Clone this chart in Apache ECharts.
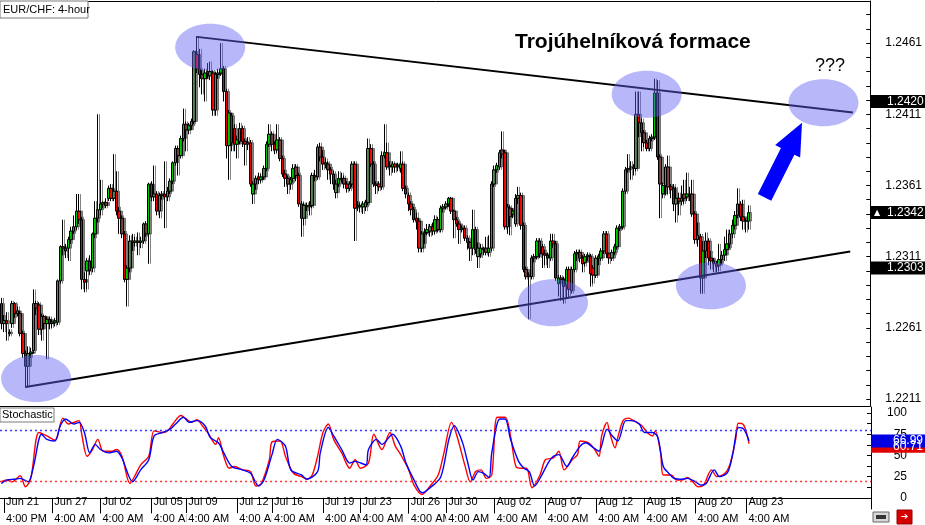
<!DOCTYPE html>
<html><head><meta charset="utf-8">
<script src="https://cdn.jsdelivr.net/npm/echarts@6/dist/echarts.min.js"></script>
<style>html,body{margin:0;padding:0;background:#fff}#c{width:925px;height:525px}</style>
</head><body><div id="c"></div>
<script>
// ---- DATA ----
// candles in pips above 1.2200 : [open, close, low, high]
const priceBase = 1.22;
const candles = [
[78,64,60,82],[64,66,58,70],[66,64,52,72],[57,58,55,60],[64,78,61,80],
[78,71,68,79],[71,73,69,76],[71,57,55,73],[57,43,40,59],[43,34,19,45],[34,43,20,48],
[43,44,40,47],[45,78,43,88],[78,75,70,80],[77,60,56,79],[60,69,52,71],
[69,64,60,70],[64,67,39,69],[67,64,60,69],[64,65,61,67],[65,66,62,68],
[65,94,63,95],[94,118,92,119],[118,117,112,137],[117,115,110,120],
[117,123,108,125],[123,129,120,132],[129,132,127,140],
[132,143,130,155],[143,137,134,155],[137,95,88,139],[95,93,86,100],[101,108,88,110],
[108,101,98,112],[103,127,100,128],[127,138,124,150],[138,144,135,211],[144,148,140,165],
[148,149,145,150],[149,147,145,152],[152,159,150,161],[159,152,150,162],[152,157,150,183],
[157,143,140,171],[143,138,127,146],[138,127,124,140],[127,95,93,129],[95,103,76,105],
[103,122,100,126],[122,121,115,127],[121,122,118,125],[122,121,112,128],[121,122,117,125],
[122,134,120,135],
[134,127,125,136],[127,162,106,163],[162,153,150,164],[153,155,150,175],[155,143,140,157],
[143,154,138,156],[154,155,151,157],[155,153,131,178],[153,157,150,160],[157,164,155,166],
[164,177,162,178],[177,187,175,189],[187,182,168,189],[182,194,180,196],[194,204,192,215],
[204,200,185,206],[200,203,197,205],[203,206,200,208],[206,255,204,256],[253,243,240,266],
[243,239,230,257],[239,236,225,242],[236,240,220,243],[240,241,236,247],[238,241,235,248],
[240,214,210,242],[214,239,210,241],[239,240,236,243],[240,243,238,261],[243,227,220,245],
[227,189,180,229],[189,212,165,214],[210,191,185,212],[201,190,185,204],[190,193,180,196],
[192,201,190,205],[201,192,188,203],[192,190,175,194],[190,191,186,195],[191,162,160,193],
[155,162,148,164],[162,166,158,168],[167,165,162,170],[165,167,163,169],[167,173,165,175],
[173,190,171,192],[190,197,188,204],[197,190,185,199],[190,186,183,192],[186,193,184,204],
[193,180,178,195],[180,169,167,182],[169,166,160,172],[166,162,155,168],[162,165,158,167],
[166,173,163,176],[174,168,164,176],[168,148,146,170],[148,138,125,150],[138,147,133,149],
[147,146,143,149],[146,147,140,150],[147,168,145,170],[168,167,164,172],[167,188,165,190],
[188,181,178,191],[181,176,172,186],[176,177,173,180],
[176,172,165,178],[172,169,162,174],[169,162,158,171],
[156,162,152,165],[162,166,160,171],[166,165,163,170],[166,162,159,168],[162,159,156,164],
[159,162,157,164],[162,176,160,178],[176,145,122,178],[146,147,143,150],[147,146,142,149],
[146,148,141,150],[146,149,143,151],[149,187,147,194],[187,176,174,190],[176,162,160,178],
[162,161,155,164],[162,160,157,164],[160,182,158,185],[182,184,180,204],[184,174,172,191],
[175,174,168,178],[174,176,170,178],[176,174,170,177],[174,175,171,177],[173,176,170,185],
[176,159,157,178],[159,155,152,161],[154,148,143,156],[148,144,140,150],[144,137,135,146],
[138,136,130,142],[136,117,114,138],[117,127,114,129],[127,128,120,131],[128,130,126,134],
[129,132,125,134],[132,129,126,135],[129,137,127,140],[137,130,128,139],[130,145,128,147],
[145,146,142,148],[146,148,144,150],[148,152,146,153],[152,143,141,153],[143,137,124,144],
[137,134,132,139],[134,130,120,136],[130,131,128,133],[131,124,122,133],[124,121,116,126],
[121,117,108,122],[117,130,112,144],[130,116,113,132],[111,117,103,121],[113,117,110,120],
[117,116,112,118],[117,114,112,125],[114,117,111,126],[117,162,115,164],[162,172,160,175],
[172,175,170,177],[174,184,172,186],
[186,183,180,199],[184,132,130,186],
[132,146,127,148],[145,139,126,147],[141,143,138,145],[134,152,132,155],[152,154,148,160],
[154,133,130,156],[133,102,100,135],[102,97,95,104],[97,98,67,100],[97,110,95,112],
[110,111,107,113],[111,122,109,124],[122,113,110,124],[118,113,103,120],[113,112,105,116],
[112,110,103,114],[110,122,108,127],[122,120,117,127],[120,96,94,122],[92,96,83,98],
[96,95,80,98],[95,90,78,97],[91,102,82,104],[102,88,82,104],[87,102,85,104],
[102,113,100,115],[113,114,108,116],[114,110,107,116],[110,106,100,112],[107,111,104,113],
[111,112,108,114],[111,99,90,113],[103,98,92,105],[98,110,96,112],[110,111,105,113],
[110,115,108,117],[115,127,113,129],[127,113,110,129],[113,110,106,114],[110,114,108,116],
[114,118,112,120],[118,131,116,133],[131,132,129,134],[132,157,130,159],[157,172,155,174],
[172,173,170,183],[174,174,165,178],
[174,173,168,176],[173,211,171,227],[211,205,195,227],[205,198,185,208],
[198,191,188,200],
[191,187,185,193],[187,194,185,196],[194,195,192,197],[195,226,193,236],[226,181,179,235],[181,162,138,183],
[155,161,152,163],[161,174,154,176],[174,160,155,182],[160,158,152,162],[159,148,143,162],
[148,152,135,160],[152,150,140,156],[150,152,147,161],[155,152,148,165],[153,155,150,170],
[155,154,150,160],[155,141,139,165],[141,123,120,143],
[123,126,118,135],
[125,96,85,127],[96,115,85,122],[115,122,110,128],[122,110,105,124],[110,108,102,115],
[108,106,100,110],[106,104,100,108],[105,109,101,120],[109,112,106,115],[112,116,108,125],
[116,120,112,130],[120,127,117,130],[127,133,124,137],[133,140,130,143],[140,148,138,159],[148,139,136,150],[139,136,130,151],
[136,136,128,138],
[136,142,130,147]
];
// stochastic (bar index, value)
const stochRed = [[0,19],[2,21],[4,19],[7,26],[9,13],[11,23],[14,77],[17,73],[20,68],[23,94],[25,87],[27,89],[29,91],[30,75],[32,49],[34,57],[36,69],[38,55],[41,55],[43,57],[45,49],[48,17],[50,27],[52,39],[55,49],[57,79],[60,77],[62,79],[64,87],[67,97],[69,93],[71,89],[73,92],[75,85],[77,77],[80,63],[81,71],[83,49],[85,35],[87,37],[90,33],[93,31],[95,14],[97,17],[100,45],[101,66],[104,67],[106,49],[109,29],[112,25],[114,22],[116,27],[118,49],[120,77],[122,87],[124,69],[127,53],[130,35],[132,45],[134,35],[137,41],[139,75],[142,57],[145,77],[147,61],[149,51],[152,33],[154,15],[157,4],[160,14],[163,27],[165,51],[168,89],[170,73],[173,38],[175,19],[177,31],[179,33],[181,23],[183,27],[185,95],[188,95],[190,73],[192,37],[194,35],[196,35],[198,12],[201,27],[203,45],[206,47],[208,55],[210,33],[213,45],[215,51],[216,67],[219,65],[221,59],[223,49],[224,73],[226,89],[227,77],[229,59],[230,71],[232,91],[234,94],[236,91],[239,85],[241,77],[243,73],[244,79],[246,53],[247,27],[250,27],[252,21],[254,21],[256,24],[258,19],[260,13],[262,15],[265,33],[267,25],[270,29],[272,41],[274,69],[275,88],[277,86],[279,64]];
const stochBlue = [[0,17],[2,21],[5,22],[7,23],[10,19],[12,37],[15,75],[17,69],[20,67],[22,85],[24,93],[27,87],[29,89],[31,77],[33,53],[35,63],[37,57],[40,53],[43,55],[45,47],[49,19],[52,33],[55,45],[57,73],[60,77],[63,81],[65,87],[68,95],[70,89],[73,91],[76,85],[78,71],[81,65],[83,53],[86,37],[90,33],[93,29],[96,14],[98,21],[101,51],[103,69],[106,61],[108,33],[112,27],[114,22],[118,31],[119,53],[122,83],[124,73],[127,57],[130,41],[132,43],[136,39],[137,57],[140,69],[142,63],[146,75],[149,61],[151,41],[154,21],[157,6],[160,12],[164,25],[167,69],[169,85],[172,66],[174,42],[176,21],[178,31],[180,29],[182,24],[183,53],[186,93],[188,93],[190,69],[193,43],[195,35],[197,31],[199,14],[202,29],[204,41],[206,49],[208,51],[211,37],[213,47],[216,61],[218,65],[221,59],[223,55],[226,81],[228,73],[230,67],[233,91],[235,91],[238,87],[240,77],[243,77],[245,71],[247,37],[249,29],[251,23],[254,22],[256,23],[259,19],[261,15],[263,17],[266,33],[268,25],[271,30],[273,53],[275,83],[277,81],[279,67]];
const stochLevels = [80, 20];
const slotCount = 325;
const labelBars = [1,19,37,56,69,88,101,120,134,152,166,184,203,222,240,259,278];
const dateLabels = ['Jun 21','Jun 27','Jul 02','Jul 05','Jul 09','Jul 12','Jul 16','Jul 19','Jul 23','Jul 26','Jul 30','Aug 02','Aug 07','Aug 12','Aug 15','Aug 20','Aug 23'];
const timeLabels = ['4:00 PM','4:00 AM','4:00 AM','4:00 AM','4:00 AM','4:00 AM','4:00 AM','4:00 AM','4:00 AM','4:00 AM','4:00 AM','4:00 AM','4:00 AM','4:00 AM','4:00 AM','4:00 AM','4:00 AM'];
const priceLabels = [1.2211,1.2261,1.2311,1.2361,1.2411,1.2461];
const stochAxisLabels = [0,25,50,75,100];
const trendUpper = [[73,1.24654],[318,1.24122]];
const trendLower = [[9,1.22194],[317,1.23147]];
const ellipseCenters = [[78.2,1.24581],[240.9,1.24251],[307,1.24192],[12.6,1.22254],[205.5,1.22787],[265.2,1.22906]];
const arrowTail = [284.9,1.23526], arrowTip = [298.8,1.24051];
const priceTags = [{v:1.2420,t:'1.2420'},{v:1.2342,t:'1.2342',tri:true},{v:1.2303,t:'1.2303'}];
const stochTags = [{v:60.7,t:'60.71',c:'#e00000'},{v:66.99,t:'66.99',c:'#0000e0'}];

// ---- CHART ----
const FONT = 'Liberation Sans';
const cats = Array.from({length: slotCount}, (_, i) => String(i));
const ohlc = candles.map(r => r.map(v => +(priceBase + v / 10000).toFixed(5)));
const minorTicks = [];
for (let k = 0; k <= 28; k++) minorTicks.push(+(1.2211 + k * 0.001).toFixed(4));
const labelMap = {};
labelBars.forEach((b, i) => labelMap[b] = i);
const isLabel = (i) => labelMap[i] !== undefined;

const chart = echarts.init(document.getElementById('c'), null, {renderer: 'canvas'});
chart.setOption({
  animation: false,
  backgroundColor: '#fff',
  textStyle: {fontFamily: FONT},
  grid: [
    {left: 0, right: 54, top: 1, height: 405, show: false},
    {left: 0, right: 54, top: 407, bottom: 16, show: false}
  ],
  xAxis: [
    {type: 'category', gridIndex: 0, data: cats, boundaryGap: true,
     axisLine: {show: true, lineStyle: {color: '#000', width: 1}}, axisTick: {show: false}, axisLabel: {show: false}, splitLine: {show: false}},
    {type: 'category', gridIndex: 1, data: cats, boundaryGap: true, position: 'bottom',
     axisLine: {show: true, lineStyle: {color: '#000'}},
     axisTick: {show: true, alignWithLabel: true, length: 16, lineStyle: {color: '#000'}, interval: isLabel},
     axisLabel: {show: true, interval: isLabel, align: 'left', margin: 4,
       formatter: (v) => timeLabels[labelMap[+v]] || '', fontSize: 11, color: '#000',
       fontFamily: FONT, backgroundColor: '#fff', padding: [0, 2, 0, 2]},
     splitLine: {show: false}},
    {type: 'category', gridIndex: 1, data: cats, boundaryGap: true, position: 'bottom',
     axisLine: {show: false}, axisTick: {show: false},
     axisLabel: {show: true, inside: true, interval: isLabel, align: 'left', margin: 2,
       formatter: (v) => dateLabels[labelMap[+v]] || '', fontSize: 11, color: '#000', fontFamily: FONT, padding: [0,0,0,2]},
     splitLine: {show: false}}
  ],
  yAxis: [
    {type: 'value', gridIndex: 0, position: 'right', min: 1.22061, max: 1.24906, scale: true,
     splitLine: {show: false},
     axisLine: {show: true, lineStyle: {color: '#000'}},
     axisTick: {show: true, inside: true, length: 4, customValues: minorTicks, lineStyle: {color: '#000'}},
     axisLabel: {show: true, customValues: priceLabels, formatter: v => v.toFixed(4), margin: 15,
       fontSize: 12, color: '#000', fontFamily: FONT}},
    {type: 'value', gridIndex: 1, position: 'right', min: -13.1, max: 107.1,
     splitLine: {show: false},
     axisLine: {show: true, lineStyle: {color: '#000'}},
     axisTick: {show: true, inside: true, length: 4, customValues: [0,12.5,25,37.5,50,62.5,75,87.5,100], lineStyle: {color: '#000'}},
     axisLabel: {show: true, customValues: stochAxisLabels, align: 'right', margin: 36,
       fontSize: 12, color: '#000', fontFamily: FONT}}
  ],
  series: [
    {type: 'candlestick', xAxisIndex: 0, yAxisIndex: 0, data: ohlc, barWidth: 3,
     itemStyle: {color: '#00c800', color0: '#e60000', borderColor: '#000', borderColor0: '#000', borderWidth: 1,
       shadowColor: 'rgba(90,90,90,0.75)', shadowOffsetX: 2, shadowOffsetY: 0, shadowBlur: 0.5}},
    {type: 'line', xAxisIndex: 0, yAxisIndex: 0, data: trendUpper, symbol: 'none',
     lineStyle: {color: '#000', width: 2}, z: 5},
    {type: 'line', xAxisIndex: 0, yAxisIndex: 0, data: trendLower, symbol: 'none',
     lineStyle: {color: '#000', width: 2}, z: 5},
    {type: 'line', xAxisIndex: 1, yAxisIndex: 1, data: stochRed, symbol: 'none', smooth: 0.3,
     lineStyle: {color: '#ff0000', width: 1.4}, z: 3,
     markLine: {silent: true, symbol: 'none', label: {show: false},
       data: [{yAxis: stochLevels[0], lineStyle: {color: '#3a3aff', type: [2, 3], width: 1.3}},
              {yAxis: stochLevels[1], lineStyle: {color: '#ff3a3a', type: [2, 3], width: 1.3}}]}},
    {type: 'line', xAxisIndex: 1, yAxisIndex: 1, data: stochBlue, symbol: 'none', smooth: 0.3,
     lineStyle: {color: '#0000ff', width: 1.4}, z: 4}
  ]
});

// ---- ANNOTATIONS ----
const P = (d) => chart.convertToPixel({xAxisIndex: 0, yAxisIndex: 0}, d);
const PS = (v) => chart.convertToPixel({xAxisIndex: 1, yAxisIndex: 1}, [0, v])[1];
const g = [];
g.push({type: 'line', z: 40, shape: {x1: 0, y1: 1.5, x2: 871, y2: 1.5}, style: {stroke: '#000', lineWidth: 1}});
ellipseCenters.forEach(c => {
  const p = P(c);
  g.push({type: 'ellipse', shape: {cx: p[0], cy: p[1], rx: 35, ry: 23.5},
    style: {fill: 'rgba(95,95,245,0.45)'}, z: 50});
});
(function () {
  const a = P(arrowTail), b = P(arrowTip);
  const dx = b[0] - a[0], dy = b[1] - a[1], L = Math.hypot(dx, dy);
  const ux = dx / L, uy = dy / L, nx = -uy, ny = ux;
  const hw = 7.5, hh = 14, hl = 32;
  const bx = b[0] - ux * hl, by = b[1] - uy * hl;
  g.push({type: 'polygon', z: 60, shape: {points: [
    [a[0] + nx * hw, a[1] + ny * hw], [bx + nx * hw, by + ny * hw], [bx + nx * hh, by + ny * hh],
    [b[0], b[1]], [bx - nx * hh, by - ny * hh], [bx - nx * hw, by - ny * hw], [a[0] - nx * hw, a[1] - ny * hw]]},
    style: {fill: '#0000ff'}});
})();
g.push({type: 'text', left: 515, top: 32, z: 70,
  style: {text: 'Trojúhelníková formace', font: 'bold 21px "Liberation Sans"', fill: '#000'}});
g.push({type: 'text', left: 815, top: 57, z: 70,
  style: {text: '???', font: '18px "Liberation Sans"', fill: '#000'}});
priceTags.forEach(t => {
  const y = P([0, t.v])[1];
  g.push({type: 'rect', z: 80, shape: {x: 871, y: y - 6.5, width: 54, height: 13}, style: {fill: '#000'}});
  g.push({type: 'text', z: 81, x: 887, y: y, style: {text: t.t, font: '12px "Liberation Sans"', fill: '#fff', verticalAlign: 'middle'}});
  if (t.tri) g.push({type: 'text', z: 81, x: 874, y: y, style: {text: '▲', font: '8px "DejaVu Sans"', fill: '#fff', verticalAlign: 'middle'}});
});
stochTags.forEach(t => {
  const y = PS(t.v);
  g.push({type: 'rect', z: 80, shape: {x: 871, y: y - 6.5, width: 54, height: 13}, style: {fill: t.c}});
  g.push({type: 'text', z: 81, x: 923, y: y, style: {text: t.t, font: '12px "Liberation Sans"', fill: '#fff', align: 'right', verticalAlign: 'middle'}});
});
g.push({type: 'rect', z: 90, shape: {x: 0, y: 1, width: 88, height: 17}, style: {fill: '#fff', stroke: '#7a7a7a', lineWidth: 1}});
g.push({type: 'text', z: 91, x: 3, y: 10, style: {text: 'EUR/CHF: 4-hour', font: '11px "Liberation Sans"', fill: '#000', verticalAlign: 'middle'}});
g.push({type: 'rect', z: 90, shape: {x: 0, y: 408, width: 54, height: 14}, style: {fill: '#fff', stroke: '#7a7a7a', lineWidth: 1}});
g.push({type: 'text', z: 91, x: 2, y: 415, style: {text: 'Stochastic', font: '11px "Liberation Sans"', fill: '#000', verticalAlign: 'middle'}});
g.push({type: 'rect', z: 90, shape: {x: 873, y: 512, width: 16, height: 10}, style: {fill: '#d8d8d8', stroke: '#666', lineWidth: 1}});
g.push({type: 'rect', z: 91, shape: {x: 876, y: 515, width: 10, height: 4}, style: {fill: '#333'}});
g.push({type: 'rect', z: 90, shape: {x: 897, y: 510, width: 15, height: 14}, style: {fill: '#d40000', stroke: '#900', lineWidth: 1}});
g.push({type: 'text', z: 91, x: 904.5, y: 517, style: {text: '➔', font: '9px "DejaVu Sans"', fill: '#fff', align: 'center', verticalAlign: 'middle'}});
chart.setOption({graphic: g});
</script>
</body></html>
